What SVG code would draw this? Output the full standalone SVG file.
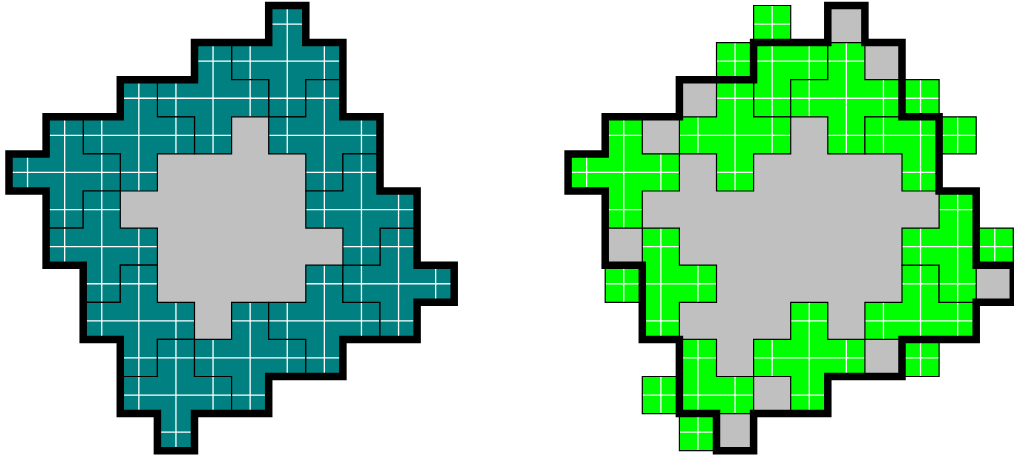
<svg xmlns="http://www.w3.org/2000/svg" xmlns:xlink="http://www.w3.org/1999/xlink" width="1014" height="461" viewBox="0 0 1014 461">
<style>
.bg{fill:#c0c0c0;stroke:none}
.wl{fill:none;stroke:#ffffff;stroke-width:1.3}
.ol{fill:none;stroke:#000000;stroke-width:1.2}
.bd{fill:none;stroke:#000000;stroke-width:7.5;stroke-linejoin:miter}
</style>
<defs>
<polygon id="pshape" points="0,-37.1 37.1,-37.1 37.1,0 74.2,0 74.2,37.1 37.1,37.1 37.1,74.2 0,74.2 0,37.1 -37.1,37.1 -37.1,0 0,0"/>
<path id="pwl" d="M18.55,-37.1V74.2M-37.1,18.55H74.2M-18.55,0V37.1M55.65,0V37.1M0,-18.55H37.1M0,55.65H37.1"/>
<g id="tealplus"><use href="#pshape" fill="#008080"/><use href="#pwl" class="wl"/><use href="#pshape" class="ol"/></g>
<g id="greenplus"><use href="#pshape" fill="#00ff00"/><use href="#pwl" class="wl"/><use href="#pshape" class="ol"/></g>
<polygon id="outer" points="268.7,5.5 305.8,5.5 305.8,42.6 342.9,42.6 342.9,116.8 380,116.8 380,191 417.1,191 417.1,265.2 454.2,265.2 454.2,302.3 417.1,302.3 417.1,339.4 342.9,339.4 342.9,376.5 268.7,376.5 268.7,413.6 194.5,413.6 194.5,450.7 157.4,450.7 157.4,413.6 120.3,413.6 120.3,339.4 83.2,339.4 83.2,265.2 46.1,265.2 46.1,191 9,191 9,153.9 46.1,153.9 46.1,116.8 120.3,116.8 120.3,79.7 194.5,79.7 194.5,42.6 268.7,42.6"/>
</defs>
<rect width="1014" height="461" fill="#ffffff"/>
<g id="left-figure">
<use id="left-core" href="#outer" class="bg"/>
<g id="left-plus-a"><use href="#tealplus" x="268.7" y="42.6"/></g>
<g id="left-plus-b"><use href="#tealplus" x="194.5" y="79.7"/></g>
<g id="left-plus-c"><use href="#tealplus" x="305.8" y="116.8"/></g>
<g id="left-plus-d"><use href="#tealplus" x="120.3" y="116.8"/></g>
<g id="left-plus-e"><use href="#tealplus" x="46.1" y="153.9"/></g>
<g id="left-plus-f"><use href="#tealplus" x="83.2" y="228.1"/></g>
<g id="left-plus-g"><use href="#tealplus" x="120.3" y="302.3"/></g>
<g id="left-plus-h"><use href="#tealplus" x="157.4" y="376.5"/></g>
<g id="left-plus-i"><use href="#tealplus" x="231.6" y="339.4"/></g>
<g id="left-plus-j"><use href="#tealplus" x="305.8" y="302.3"/></g>
<g id="left-plus-k"><use href="#tealplus" x="380" y="265.2"/></g>
<g id="left-plus-l"><use href="#tealplus" x="342.9" y="191"/></g>
<use id="left-border" href="#outer" class="bd"/>
</g>
<g id="right-figure">
<use id="right-core" href="#outer" class="bg" x="559.1"/>
<g id="right-plus-a"><use href="#greenplus" x="753.6" y="42.6"/></g>
<g id="right-plus-b"><use href="#greenplus" x="827.8" y="79.7"/></g>
<g id="right-plus-c"><use href="#greenplus" x="902" y="116.8"/></g>
<g id="right-plus-d"><use href="#greenplus" x="716.5" y="116.8"/></g>
<g id="right-plus-e"><use href="#greenplus" x="605.2" y="153.9"/></g>
<g id="right-plus-f"><use href="#greenplus" x="642.3" y="265.2"/></g>
<g id="right-plus-g"><use href="#greenplus" x="679.4" y="376.5"/></g>
<g id="right-plus-h"><use href="#greenplus" x="790.7" y="339.4"/></g>
<g id="right-plus-i"><use href="#greenplus" x="902" y="302.3"/></g>
<g id="right-plus-j"><use href="#greenplus" x="939.1" y="228.1"/></g>
<use id="right-border" href="#outer" class="bd" x="559.1"/>
</g>
</svg>
